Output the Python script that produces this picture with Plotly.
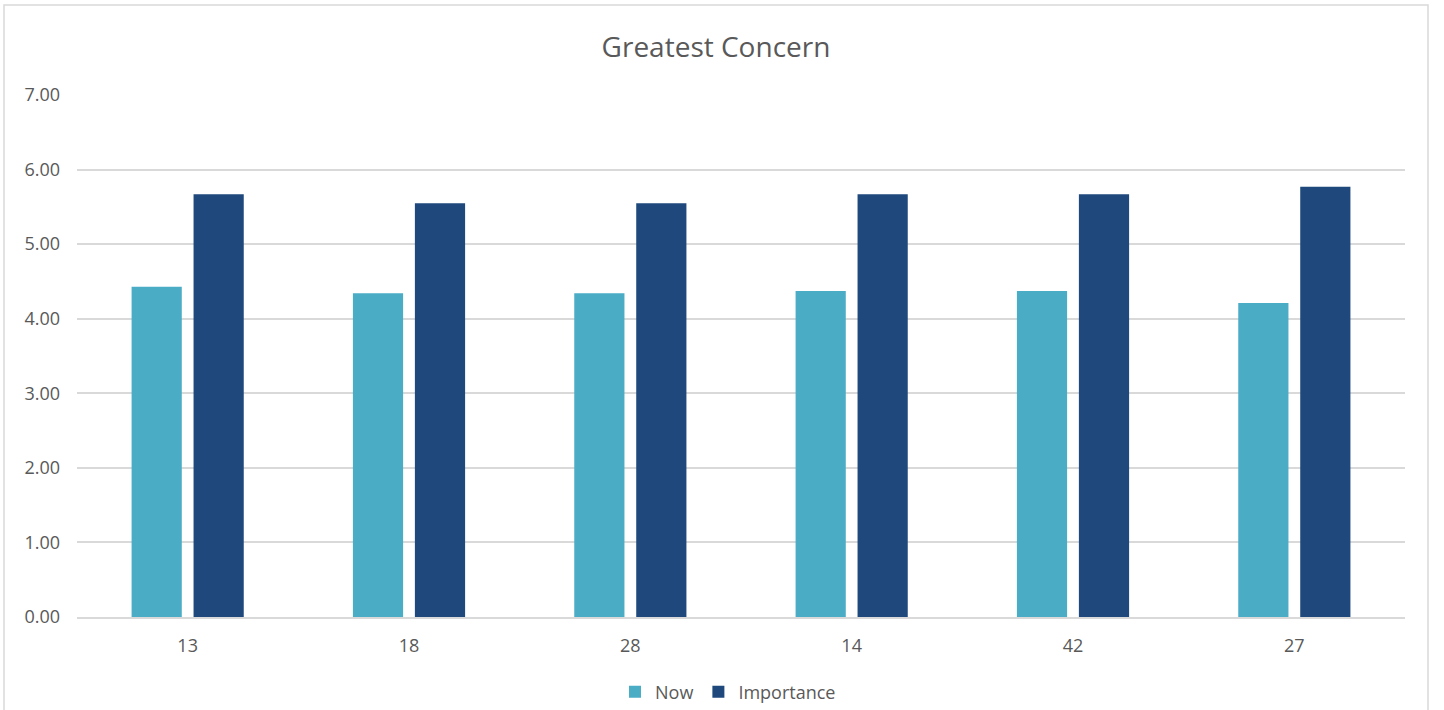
import plotly.graph_objects as go

categories = ["13", "18", "28", "14", "42", "27"]
now_values = [4.43, 4.34, 4.34, 4.37, 4.37, 4.21]
importance_values = [5.67, 5.55, 5.55, 5.67, 5.67, 5.77]
y_ticks = [0, 1, 2, 3, 4, 5, 6, 7]

W, H = 1444, 710
L, R, T, B = 77, 39, 95, 93

fig = go.Figure()
fig.add_trace(go.Bar(x=categories, y=now_values, name="Now",
                     marker=dict(color="#4BACC6", line=dict(width=0))))
fig.add_trace(go.Bar(x=categories, y=importance_values, name="Importance",
                     marker=dict(color="#1F497D", line=dict(width=0))))

font = "'Open Sans', sans-serif"
fig.update_layout(
    width=W, height=H,
    margin=dict(l=L, r=R, t=T, b=B, autoexpand=False),
    paper_bgcolor="white", plot_bgcolor="white",
    barmode="group", bargap=0.44, bargroupgap=0.19,
    title=dict(text="Greatest Concern", x=716 / W, xanchor="center",
               y=1 - 47 / H, yanchor="middle",
               font=dict(family=font, size=28, color="#595959")),
    font=dict(family=font, color="#595959", size=16),
    showlegend=True,
    legend=dict(orientation="h", xref="container", x=728 / W, xanchor="center",
                yref="container", y=(H - 692) / H, yanchor="middle",
                font=dict(family=font, size=18, color="#595959"),
                itemwidth=30, traceorder="normal"),
    xaxis=dict(type="category", showgrid=False, showline=True, linecolor="#d9d9d9",
               linewidth=1.5, ticks="", tickfont=dict(size=18, color="#595959"),
               ticklabelstandoff=12),
    yaxis=dict(range=[0, 7], tickvals=y_ticks, tickformat=".2f", showgrid=True,
               gridcolor="#d9d9d9", gridwidth=1.5, zeroline=False, showline=False,
               ticks="", ticklabelstandoff=16, tickfont=dict(size=18, color="#595959")),
)

# outer chart border
fig.add_shape(type="rect", xref="paper", yref="paper",
              x0=-(L - 4) / (W - L - R), x1=1 + (1428 - (W - R)) / (W - L - R),
              y0=-(H + 5 - (H - B)) / (H - T - B), y1=1 + (T - 5) / (H - T - B),
              line=dict(color="#d9d9d9", width=1.5), fillcolor="rgba(0,0,0,0)", layer="below")

fig.write_html("out.html")
